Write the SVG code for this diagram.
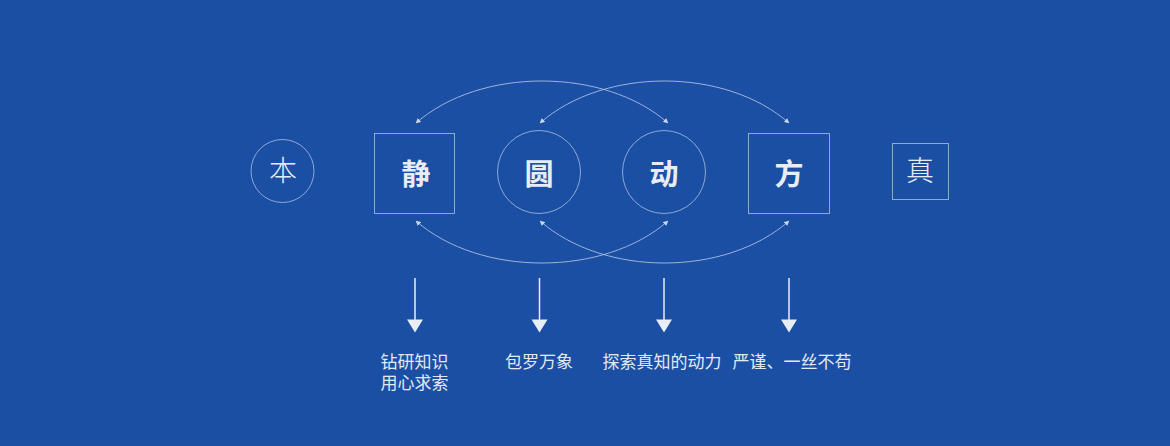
<svg xmlns="http://www.w3.org/2000/svg" width="1170" height="446" viewBox="0 0 1170 446">
<defs>
<style>
.nb{fill:none;stroke:#8ea8d8;stroke-width:1}
.arc{fill:none;stroke:#a9bde2;stroke-width:0.9}
.big{font-family:"Noto Sans CJK SC",sans-serif;font-size:29px;font-weight:bold;fill:#e8edf5;text-anchor:middle}
.thin{font-family:"Noto Sans CJK SC",sans-serif;font-size:28px;font-weight:300;fill:#e8edf5;text-anchor:middle}
.lbl{font-family:"Noto Sans CJK SC",sans-serif;font-size:17px;fill:#e3e9f3;text-anchor:middle}
.dl{stroke:#e8eef6;stroke-width:1.5}
.dh{fill:#e8eef6}
</style>
<marker id="ah" viewBox="0 0 6 6" refX="5.5" refY="3" markerWidth="5" markerHeight="5" markerUnits="userSpaceOnUse" orient="auto-start-reverse">
<path d="M0,0 L6,3 L0,6 Z" fill="#c8d6ef"/>
</marker>
</defs>
<rect width="1170" height="446" fill="#1b4fa4"/>
<g id="node-ben">
<circle class="nb" cx="282.5" cy="171" r="31.5"/>
<text class="thin" x="283" y="181">本</text>
</g>
<g id="node-jing">
<rect class="nb" x="374.5" y="133.5" width="80" height="80"/>
<text class="big" x="416" y="185">静</text>
</g>
<g id="node-yuan">
<circle class="nb" cx="539" cy="172" r="41.5"/>
<text class="big" x="539" y="185">圆</text>
</g>
<g id="node-dong">
<circle class="nb" cx="664" cy="172" r="41.5"/>
<text class="big" x="664" y="185">动</text>
</g>
<g id="node-fang">
<rect class="nb" x="748.5" y="133.5" width="81" height="80"/>
<text class="big" x="789" y="185">方</text>
</g>
<g id="node-zhen">
<rect class="nb" x="892.5" y="143.5" width="56" height="56"/>
<text class="thin" x="920" y="181">真</text>
</g>
<g id="connectors">
<path class="arc" d="M416,123 C480,67 604,67 668,123" marker-start="url(#ah)" marker-end="url(#ah)"/>
<path class="arc" d="M540,123 C604,67 725,67 789,123" marker-start="url(#ah)" marker-end="url(#ah)"/>
<path class="arc" d="M416,221 C480,277 604,277 668,221" marker-start="url(#ah)" marker-end="url(#ah)"/>
<path class="arc" d="M540,221 C604,277 725,277 789,221" marker-start="url(#ah)" marker-end="url(#ah)"/>
<line class="dl" x1="415" y1="278" x2="415" y2="321"/>
<polygon class="dh" points="407,319.5 423,319.5 415,332.5"/>
<line class="dl" x1="539.5" y1="278" x2="539.5" y2="321"/>
<polygon class="dh" points="531.5,319.5 547.5,319.5 539.5,332.5"/>
<line class="dl" x1="664" y1="278" x2="664" y2="321"/>
<polygon class="dh" points="656,319.5 672,319.5 664,332.5"/>
<line class="dl" x1="789" y1="278" x2="789" y2="321"/>
<polygon class="dh" points="781,319.5 797,319.5 789,332.5"/>
</g>
<g id="labels">
<text class="lbl" x="414.5" y="368">钻研知识<tspan x="414.5" dy="21">用心求索</tspan></text>
<text class="lbl" x="539" y="368">包罗万象</text>
<text class="lbl" x="662" y="368">探索真知的动力</text>
<text class="lbl" x="792" y="368">严谨、一丝不苟</text>
</g>
</svg>
